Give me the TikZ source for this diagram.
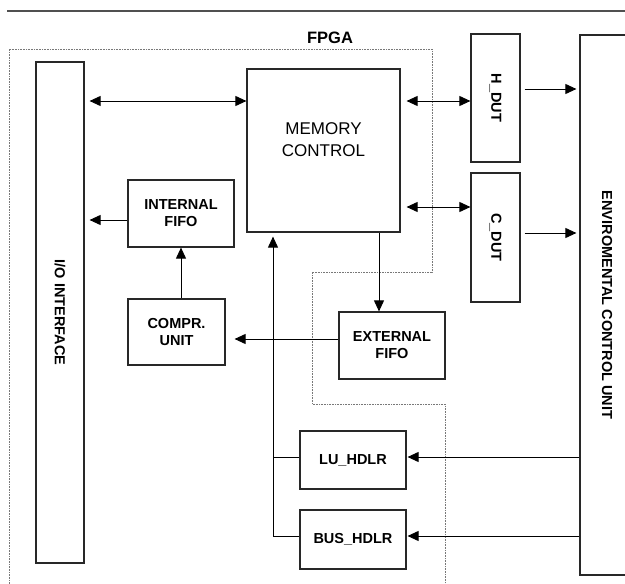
\documentclass[tikz,border=0pt]{standalone}
\usepackage{fontspec}
\setmainfont{Liberation Sans}
\usetikzlibrary{arrows.meta}
\definecolor{FrameGray}{RGB}{120,120,120}
\definecolor{RuleGray}{RGB}{80,80,80}
\definecolor{BoxBlack}{RGB}{40,40,40}

\begin{document}
\begin{tikzpicture}[x=1pt, y=-1pt,
    blk/.style={draw=BoxBlack, line width=1.2pt, inner sep=0pt, align=center,
        font=\fontsize{14.5pt}{17pt}\selectfont\bfseries},
    sig/.style={-{Triangle[length=11pt,width=10pt]}, line width=0.9pt},
    dsig/.style={{Triangle[length=11pt,width=10pt]}-{Triangle[length=11pt,width=10pt]}, line width=0.9pt}]
    \useasboundingbox (0,0) rectangle (625,584);
    \clip (0,0) rectangle (625,584);
    % Top rule
    \draw[RuleGray, line width=1.3pt] (7,11) -- (625,11);
    % FPGA boundary
    \draw[FrameGray, line width=0.7pt, dash pattern=on 0.8pt off 0.8pt]
        (9,584) -- (9,49) -- (432,49) -- (432,272) -- (312,272)
        -- (312,404) -- (445,404) -- (445,584);
    \node[font=\fontsize{16.5pt}{19pt}\selectfont\bfseries] (fpga) at (330,38) {FPGA};
    % Blocks
    \node[blk, minimum width=48pt, minimum height=501pt] (io) at (60,312.5) {\rotatebox{-90}{I/O INTERFACE}};
    \node[blk, minimum width=153pt, minimum height=163pt] (mem) at (323.5,150.5) {};
    \node[font=\fontsize{17pt}{22pt}\selectfont, align=center] (memtxt) at ([yshift=11pt]mem.center) {MEMORY\\CONTROL};
    \node[blk, minimum width=49pt, minimum height=128pt] (hdut) at (495.5,98) {\rotatebox{-90}{H\_DUT}};
    \node[blk, minimum width=49pt, minimum height=129pt] (cdut) at (495.5,237.5) {\rotatebox{-90}{C\_DUT}};
    \node[blk, minimum width=54pt, minimum height=540pt] (ecu) at (607,305) {\rotatebox{-90}{ENVIROMENTAL CONTROL UNIT}};
    \node[blk, minimum width=106pt, minimum height=67pt] (ififo) at (181,213.5) {INTERNAL\\FIFO};
    \node[blk, minimum width=97pt, minimum height=66pt] (compr) at (176.5,332) {COMPR.\\UNIT};
    \node[blk, minimum width=106pt, minimum height=67pt] (efifo) at (392,345.5) {EXTERNAL\\FIFO};
    \node[blk, minimum width=106pt, minimum height=58pt] (lu) at (353,460) {LU\_HDLR};
    \node[blk, minimum width=106pt, minimum height=59pt] (bus) at (353,539.5) {BUS\_HDLR};
    % Memory links
    \draw[dsig, shorten <=5pt] (io.east |- 0,101) -- (mem.west |- 0,101);
    \draw[dsig, shorten <=6pt] (mem.east |- 0,101) -- (hdut.west |- 0,101);
    \draw[dsig, shorten <=6pt] (mem.east |- 0,207) -- (cdut.west |- 0,207);
    % DUT outputs
    \draw[sig, shorten <=4pt, shorten >=3pt] (hdut.east |- 0,89) -- (ecu.west |- 0,89);
    \draw[sig, shorten <=4pt, shorten >=3pt] (cdut.east |- 0,233) -- (ecu.west |- 0,233);
    % FIFO chain
    \draw[sig, shorten >=5pt] (ififo.west |- 0,220) -- (io.east |- 0,220);
    \draw[sig] (ififo.south |- compr.north) -- (ififo.south);
    \draw[sig] (mem.south -| 379,0) -- (efifo.north -| 379,0);
    \draw[sig, shorten >=9pt] (efifo.west |- 0,339) -- (compr.east |- 0,339);
    % Handlers
    \coordinate (merge) at (273,536);
    \draw[sig, shorten >=4pt] (bus.west |- merge) -- (merge) -- (mem.south -| merge);
    \draw[line width=0.9pt] (lu.west |- 0,457) -- (merge |- 0,457);
    \draw[sig, shorten >=1pt] (ecu.west |- 0,457) -- (lu.east |- 0,457);
    \draw[sig, shorten >=1pt] (ecu.west |- merge) -- (bus.east |- merge);
\end{tikzpicture}
\end{document}
